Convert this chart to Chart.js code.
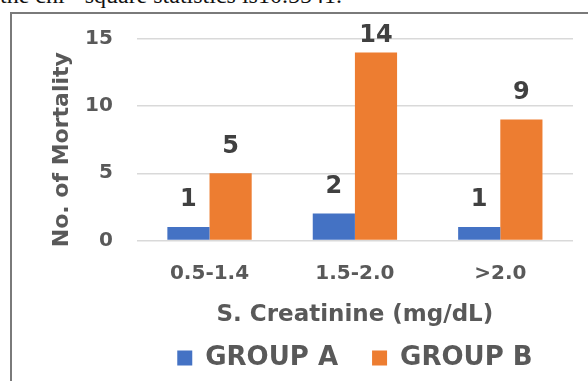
<!DOCTYPE html>
<html>
<head>
<meta charset="utf-8">
<script src="https://cdn.jsdelivr.net/npm/chart.js@4/dist/chart.umd.min.js"></script>
<style>
  html, body { margin: 0; padding: 0; background: #fff; }
  body { width: 588px; height: 381px; position: relative; overflow: hidden; }
  #caption {
    position: absolute; left: 0; top: -17px; width: 333px;
    text-align: right; white-space: nowrap;
    font-family: "Liberation Serif", serif; font-size: 24px; line-height: 24px; color: #111;
  }
  #frame {
    position: absolute; left: 10px; top: 12px; width: 700px; height: 500px;
    border-left: 2px solid #7a7a7a; border-top: 2px solid #7a7a7a;
    pointer-events: none;
  }
  #wrap { position: absolute; left: 0; top: 0; width: 588px; height: 381px; }
</style>
</head>
<body>
<div id="caption">the chi - square statistics is10.5541.</div>
<div id="wrap"><canvas id="chart" width="588" height="381"></canvas></div>
<div id="frame"></div>
<script>
// Serum creatinine ranges and mortality counts per group
const categories = ['0.5-1.4', '1.5-2.0', '>2.0'];
const groupA = [1, 2, 1];
const groupB = [5, 14, 9];
const seriesNames = ['GROUP A', 'GROUP B'];
const yTicks = [0, 5, 10, 15];
const yTitle = 'No. of Mortality';

const FONT = '"DejaVu Sans", Verdana, sans-serif';
const AXIS_GRAY = '#595959';
const LABEL_DARK = '#404040';

// Value labels above each bar, kept inside the top of the plot area
const valueLabels = {
  id: 'valueLabels',
  afterDatasetsDraw(chart) {
    const { ctx, chartArea } = chart;
    ctx.save();
    ctx.font = 'bold 24px ' + FONT;
    ctx.fillStyle = LABEL_DARK;
    ctx.textAlign = 'center';
    ctx.textBaseline = 'middle';
    chart.data.datasets.forEach((ds, di) => {
      chart.getDatasetMeta(di).data.forEach((bar, i) => {
        const y = Math.max(bar.y - 27, chartArea.top - 3);
        ctx.fillText(String(ds.data[i]), bar.x, y);
      });
    });
    ctx.restore();
  }
};

// Rotated value-axis title, sitting a little below the plot's middle
const valueAxisTitle = {
  id: 'valueAxisTitle',
  afterDraw(chart) {
    const { ctx, chartArea } = chart;
    ctx.save();
    ctx.translate(62, (chartArea.top + chartArea.bottom) / 2 + 10);
    ctx.rotate(-Math.PI / 2);
    ctx.font = 'bold 22px ' + FONT;
    ctx.fillStyle = AXIS_GRAY;
    ctx.textAlign = 'center';
    ctx.textBaseline = 'middle';
    ctx.fillText(yTitle, 0, 0);
    ctx.restore();
  }
};

new Chart(document.getElementById('chart'), {
  type: 'bar',
  data: {
    labels: categories,
    datasets: [
      { label: seriesNames[0], data: groupA, backgroundColor: '#4472C4', borderWidth: 0 },
      { label: seriesNames[1], data: groupB, backgroundColor: '#ED7D31', borderWidth: 0 }
    ]
  },
  options: {
    responsive: false,
    animation: false,
    layout: { padding: { left: 61, right: 15, top: 39, bottom: 0 } },
    datasets: { bar: { barPercentage: 1.0, categoryPercentage: 0.58 } },
    plugins: {
      legend: {
        position: 'bottom',
        fullSize: false,
        labels: {
          boxWidth: 15, boxHeight: 15, padding: 34,
          color: AXIS_GRAY,
          font: { family: FONT, size: 26, weight: 'bold' }
        }
      },
      tooltip: { enabled: false }
    },
    scales: {
      x: {
        grid: { display: false, drawTicks: false },
        border: { display: false },
        ticks: {
          padding: 21, color: AXIS_GRAY,
          font: { family: FONT, size: 20, weight: 'bold' }
        },
        title: {
          display: true, text: 'S. Creatinine (mg/dL)', color: AXIS_GRAY,
          padding: { top: -5, bottom: -18 },
          font: { family: FONT, size: 23, weight: 'bold' }
        }
      },
      y: {
        min: 0, max: 15,
        afterBuildTicks(scale) { scale.ticks = yTicks.map(v => ({ value: v })); },
        grid: { color: '#d9d9d9', lineWidth: 1.5, drawTicks: false },
        border: { display: false },
        ticks: {
          padding: 24, color: AXIS_GRAY,
          font: { family: FONT, size: 20, weight: 'bold' }
        },
        title: { display: false }
      }
    }
  },
  plugins: [valueLabels, valueAxisTitle]
});
</script>
</body>
</html>
